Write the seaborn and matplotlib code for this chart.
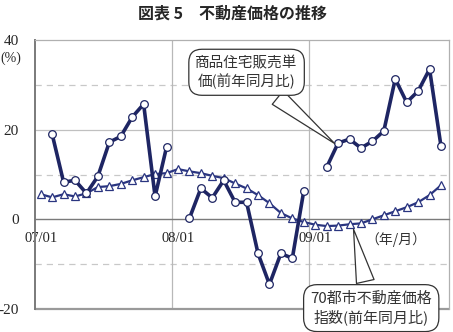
import numpy as np
import pandas as pd
import matplotlib
matplotlib.use("Agg")
import matplotlib.pyplot as plt
import seaborn as sns

# ---- data ----
months = [f"{y:02d}/{m:02d}" for y in (7, 8, 9) for m in range(1, 13)]
sales_price_yoy = [np.nan, 19.0, 8.3, 8.7, 5.8, 9.6, 17.2, 18.5, 22.8, 25.7, 5.1, 16.1,
                   np.nan, 0.2, 6.9, 4.8, 8.7, 3.8, 3.8, -7.6, -14.5, -7.6, -8.7, 6.3,
                   np.nan, 11.6, 17.0, 17.9, 15.9, 17.4, 19.7, 31.3, 26.1, 28.6, 33.5, 16.3]
index70_yoy = [5.6, 4.9, 5.6, 5.1, 5.8, 7.2, 7.4, 7.9, 8.7, 9.4, 10.1, 10.3,
               11.2, 10.7, 10.3, 9.7, 9.2, 8.0, 6.9, 5.4, 3.6, 1.4, 0.2, -0.6,
               -1.2, -1.5, -1.4, -1.1, -0.9, 0.0, 0.9, 1.8, 2.7, 3.8, 5.4, 7.6]
xtick_labels = ["07/01", "08/01", "09/01"]
yticks = [-20, 0, 20, 40]
title = "図表 5　不動産価格の推移"
label_sales = "商品住宅販売単\n価(前年同月比)"
label_index = "70都市不動産価格\n指数(前年同月比)"

sns.set_style("white")
plt.rcParams["font.family"] = ["Liberation Serif", "Noto Sans CJK JP", "DejaVu Sans"]

pos = np.arange(len(months))
df_sales = pd.DataFrame({"x": pos, "y": sales_price_yoy})
df_sales["seg"] = df_sales["y"].isna().cumsum()
df_sales = df_sales.dropna()
df_index = pd.DataFrame({"x": pos, "y": index70_yoy})

fig = plt.figure(figsize=(4.53, 3.32), dpi=100)
ax = fig.add_axes([35 / 453, 1 - 309 / 332, 414 / 453, 269 / 332])

navy = "#1E2563"
navy2 = "#2A3580"

# gridlines
for v in (30, 10, -10):
    ax.axhline(v, color="#C8C8C8", lw=0.9, ls=(0, (5, 4)), zorder=0)
ax.axhline(20, color="#C0C0C0", lw=0.9, zorder=0)
for b in (11.5, 23.5):
    ax.axvline(b, color="#B8B8B8", lw=0.9, zorder=0)

sns.lineplot(data=df_index, x="x", y="y", ax=ax, color=navy2, lw=1.6,
             marker="^", markersize=5.5, markerfacecolor="white",
             markeredgecolor=navy2, markeredgewidth=0.9, zorder=3)
sns.lineplot(data=df_sales, x="x", y="y", units="seg", estimator=None, ax=ax,
             color=navy, lw=2.6, marker="o", markersize=5.5,
             markerfacecolor="white", markeredgecolor=navy,
             markeredgewidth=0.9, zorder=4)

ax.set_xlim(-0.5, 35.7)
ax.set_ylim(-20, 40)
ax.set_xlabel("")
ax.set_ylabel("")

# axes look (Excel style: category axis crosses at 0)
ax.spines["bottom"].set_position(("data", 0))
ax.spines["bottom"].set_color("#7A7A7A")
ax.spines["bottom"].set_linewidth(1.0)
ax.spines["left"].set_color("#7A7A7A")
ax.spines["left"].set_linewidth(1.4)
for s in ("top", "right"):
    ax.spines[s].set_color("#B0B0B0")
    ax.spines[s].set_linewidth(0.9)
ax.axhline(-20, color="#9A9A9A", lw=1.6, clip_on=False, zorder=1)

ax.set_xticks([11.5, 23.5])
ax.set_xticklabels([])
ax.set_xticks([0, 12, 24], minor=True)
ax.set_xticklabels(xtick_labels, minor=True, fontsize=10.5)
ax.tick_params(axis="x", which="major", length=4, color="#7A7A7A", direction="out")
ax.tick_params(axis="x", which="minor", length=0, pad=9)

ax.set_yticks(yticks)
ax.set_yticklabels([str(v) for v in yticks], fontsize=11)
ax.tick_params(axis="y", length=0, pad=11.5)

fig.text(11 / 453, 1 - 58 / 332, "(%)", fontsize=10, ha="center", va="center",
         family=["Liberation Serif"])
fig.text(396 / 453, 1 - 240 / 332, "（年/月）", fontsize=10, ha="center", va="center",
         color="#333333", family=["Noto Sans CJK JP", "DejaVu Sans"])

fig.text(233 / 453, 1 - 14 / 332, title, fontsize=11.5, fontweight="bold",
         ha="center", va="center", family=["Noto Sans CJK JP", "DejaVu Sans"])

box = dict(boxstyle="round,pad=0.45,rounding_size=0.9", fc="white", ec="#333333", lw=0.9)
ax.annotate(label_sales, xy=(25.9, 16.5), xytext=(18.0, 32.8), fontsize=10.5,
            ha="center", va="center", color="#333333", linespacing=1.25,
            family=["Noto Sans CJK JP", "DejaVu Sans"], bbox=box, zorder=6,
            arrowprops=dict(arrowstyle="wedge,tail_width=1.2,shrink_factor=0.5",
                            fc="white", ec="#333333", lw=0.9))
ax.annotate(label_index, xy=(27.3, -1.6), xytext=(28.9, -19.8), fontsize=10.8,
            ha="center", va="center", color="#333333", linespacing=1.25,
            family=["Noto Sans CJK JP", "DejaVu Sans"], bbox=box, zorder=6,
            annotation_clip=False,
            arrowprops=dict(arrowstyle="wedge,tail_width=1.2,shrink_factor=0.5",
                            fc="white", ec="#333333", lw=0.9))

fig.savefig("out.png", dpi=100)
